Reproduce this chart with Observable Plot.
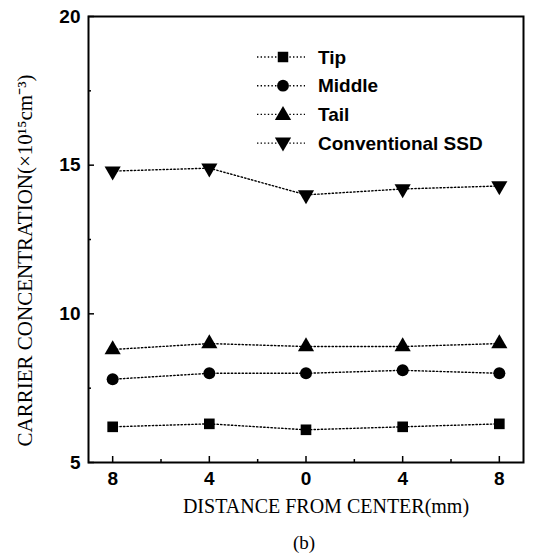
<!DOCTYPE html>
<html><head><meta charset="utf-8">
<script src="https://cdn.jsdelivr.net/npm/d3@7"></script>
<script src="https://cdn.jsdelivr.net/npm/@observablehq/plot@0.6"></script>
<style>body{margin:0;background:#fff}</style>
</head><body><div id="chart"></div>
<script>
const xLabels = ["8", "4", "0", "4", "8"];
const seriesNames = ["Tip", "Middle", "Tail", "Conventional SSD"];
const tip = [6.2, 6.3, 6.1, 6.2, 6.3];
const middle = [7.8, 8.0, 8.0, 8.1, 8.0];
const tail = [8.8, 9.0, 8.9, 8.9, 9.0];
const ssd = [14.8, 14.9, 14.0, 14.2, 14.3];
const yTicks = [5, 10, 15, 20];
const yMinor = [7.5, 12.5, 17.5];

const seriesValues = [tip, middle, tail, ssd];
const symbols = ["square", "circle", "triangle", "triangle"];
const rotations = [0, 0, 0, 180];
const data = seriesNames.flatMap((s, k) => seriesValues[k].map((v, i) => ({series: s, k, i, v})));

const sans = "Liberation Sans, Arial, sans-serif";
const serif = "Liberation Serif, Times New Roman, serif";

const legend = (index, scales, values, dims) => {
  const g = d3.create("svg:g");
  const x0 = dims.marginLeft + 169, y0 = dims.marginTop + 41, step = 28.7;
  seriesNames.forEach((s, k) => {
    const y = y0 + k * step;
    g.append("line").attr("x1", x0).attr("x2", x0 + 48).attr("y1", y).attr("y2", y)
      .attr("stroke", "#000").attr("stroke-width", 1.4).attr("stroke-dasharray", "1.4,2.2");
    const sym = [d3.symbolSquare, d3.symbolCircle, d3.symbolTriangle, d3.symbolTriangle][k];
    const size = [110, 110, 115, 115][k];
    g.append("path").attr("d", d3.symbol(sym, size)())
      .attr("transform", `translate(${x0 + 26},${y + (k === 3 ? -1 : k === 2 ? 1 : 0)}) rotate(${rotations[k]})`)
      .attr("fill", "#000");
    g.append("text").attr("x", x0 + 61).attr("y", y).attr("dy", "0.35em")
      .attr("text-anchor", "start")
      .attr("font-family", sans).attr("font-size", 19).attr("font-weight", "bold").text(s);
  });
  return g.node();
};

const chart = Plot.plot({
  width: 545, height: 560,
  marginLeft: 88, marginRight: 22, marginTop: 16, marginBottom: 98,
  x: {type: "linear", domain: [-0.25, 4.25]},
  y: {domain: [5, 20]},
  style: {background: "#fff", color: "#000"},
  marks: [
    Plot.line(data, {x: "i", y: "v", z: "series", stroke: "#000", strokeWidth: 1.4, strokeDasharray: "1.4,2.2"}),
    Plot.dot(data, {x: "i", y: "v", symbol: d => symbols[d.k], rotate: d => rotations[d.k], r: 6, fill: "#000", stroke: "none"}),
    Plot.frame({stroke: "#000", strokeWidth: 2}),
    Plot.axisX({ticks: [0, 1, 2, 3, 4], tickFormat: i => xLabels[i], tickSize: -6, tickPadding: 15, fontSize: 19, fontWeight: "bold", fontFamily: sans, label: null, strokeWidth: 1.5}),
    Plot.axisX({ticks: [0.5, 1.5, 2.5, 3.5], tickFormat: () => "", tickSize: -3, label: null, strokeWidth: 1.5}),
    Plot.axisY({ticks: yTicks, tickSize: -6, tickPadding: 14, fontSize: 19, fontWeight: "bold", fontFamily: sans, label: null, strokeWidth: 1.5}),
    Plot.axisY({ticks: yMinor, tickFormat: () => "", tickSize: -3, label: null, strokeWidth: 1.5}),
    Plot.text(["CARRIER CONCENTRATION(×10¹⁵cm⁻³)"], {frameAnchor: "left", textAnchor: "middle", rotate: -90, dx: -63, dy: 21, fontSize: 21, fontFamily: serif, fill: "#000"}),
    Plot.text(["DISTANCE FROM CENTER(mm)"], {frameAnchor: "bottom", dx: 20, dy: 50, fontSize: 20, fontFamily: serif, fill: "#000"}),
    Plot.text(["(b)"], {frameAnchor: "bottom", dx: -2, dy: 86, fontSize: 19, fontFamily: serif, fill: "#000"}),
    legend
  ]
});
document.getElementById("chart").append(chart);
</script>
</body></html>
